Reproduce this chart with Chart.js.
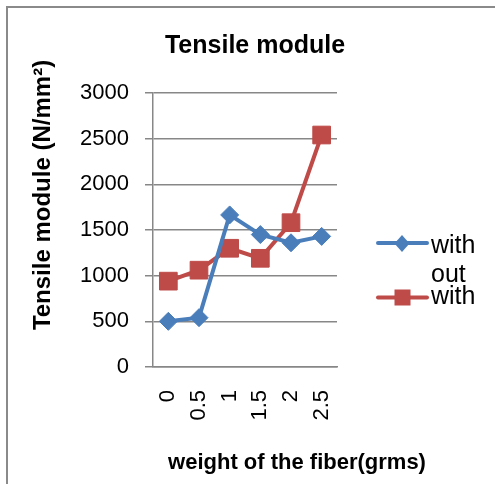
<!DOCTYPE html>
<html>
<head>
<meta charset="utf-8">
<script src="https://cdn.jsdelivr.net/npm/chart.js@4.4.1/dist/chart.umd.min.js"></script>
<style>
html,body{margin:0;padding:0;background:#fff;}
#wrap{width:495px;height:484px;position:relative;}
</style>
</head>
<body>
<div id="wrap"><canvas id="c" width="495" height="484"></canvas></div>
<script>
const categories = ["0", "0.5", "1", "1.5", "2", "2.5"];
const withoutValues = [500, 540, 1665, 1450, 1360, 1430];
const withValues = [940, 1060, 1300, 1190, 1580, 2540];
const seriesNames = ["with out", "with"];
const chartTitle = "Tensile module";
const yTitle = "Tensile module (N/mm²)";
const xTitle = "weight of the fiber(grms)";
const yMin = 0, yMax = 3000, yStep = 500;

const BLUE = "#4A7EBB";
const RED = "#BE4B48";
const GRID = "#878787";
const FONT = "'Liberation Sans', Arial, sans-serif";

const decor = {
  id: 'decor',
  afterDraw(chart) {
    const ctx = chart.ctx;
    ctx.save();
    // outer border
    ctx.strokeStyle = "#8a8a8a";
    ctx.lineWidth = 2;
    ctx.beginPath();
    ctx.moveTo(7, 484);
    ctx.lineTo(7, 7);
    ctx.lineTo(495, 7);
    ctx.stroke();
    ctx.fillStyle = "#000";
    // title
    ctx.font = "bold 25px " + FONT;
    ctx.textAlign = "center";
    ctx.textBaseline = "alphabetic";
    ctx.fillText(chartTitle, 255, 53);
    // x title
    ctx.font = "bold 22px " + FONT;
    ctx.fillText(xTitle, 297, 469);
    // y title
    ctx.save();
    ctx.translate(50, 195);
    ctx.rotate(-Math.PI / 2);
    ctx.font = "bold 24px " + FONT;
    ctx.fillText(yTitle, 0, 0);
    ctx.restore();
    // legend
    ctx.lineWidth = 4;
    ctx.lineCap = "round";
    ctx.strokeStyle = BLUE;
    ctx.beginPath(); ctx.moveTo(378, 243); ctx.lineTo(427, 243); ctx.stroke();
    ctx.fillStyle = BLUE;
    ctx.beginPath();
    ctx.moveTo(402, 235); ctx.lineTo(409.5, 243.5); ctx.lineTo(402, 252); ctx.lineTo(394.5, 243.5); ctx.closePath();
    ctx.fill();
    ctx.strokeStyle = RED;
    ctx.beginPath(); ctx.moveTo(378, 297.5); ctx.lineTo(427, 297.5); ctx.stroke();
    ctx.fillStyle = RED;
    ctx.fillRect(394.5, 289.5, 16, 16);
    ctx.fillStyle = "#000";
    ctx.font = "25px " + FONT;
    ctx.textAlign = "left";
    ctx.fillText("with", 431, 253);
    ctx.fillText("out", 431, 281.5);
    ctx.fillText("with", 431, 303.5);
    ctx.restore();
  }
};

new Chart(document.getElementById('c'), {
  type: 'line',
  data: {
    labels: categories,
    datasets: [
      {
        label: seriesNames[0],
        data: withoutValues,
        borderColor: BLUE,
        backgroundColor: BLUE,
        borderWidth: 4,
        pointStyle: 'rectRot',
        pointRadius: 9,
        pointBorderWidth: 1,
        pointBackgroundColor: BLUE,
        pointBorderColor: BLUE,
        tension: 0,
        clip: false
      },
      {
        label: seriesNames[1],
        data: withValues,
        borderColor: RED,
        backgroundColor: RED,
        borderWidth: 4,
        pointStyle: 'rect',
        pointRadius: 12.5,
        pointBorderWidth: 1,
        pointBackgroundColor: RED,
        pointBorderColor: RED,
        tension: 0,
        clip: false
      }
    ]
  },
  options: {
    responsive: false,
    animation: false,
    devicePixelRatio: 1,
    layout: { padding: { left: 10, top: 93, right: 158, bottom: 0 } },
    plugins: {
      legend: { display: false },
      title: { display: false },
      tooltip: { enabled: false }
    },
    scales: {
      x: {
        type: 'category',
        offset: true,
        grid: { display: false, drawTicks: false },
        border: { display: true, color: GRID, width: 1.5 },
        ticks: {
          color: "#000",
          font: { family: FONT, size: 22 },
          minRotation: 90,
          maxRotation: 90,
          padding: 23,
          autoSkip: false
        },
        afterFit(s) { s.height = 117; }
      },
      y: {
        min: yMin,
        max: yMax,
        grid: { color: GRID, lineWidth: 1.5, tickLength: 8, drawTicks: true },
        border: { display: true, color: GRID, width: 1.5 },
        ticks: {
          stepSize: yStep,
          color: "#000",
          font: { family: FONT, size: 22 },
          padding: 16,
          callback: (v) => String(v)
        },
        afterFit(s) { s.width = 143; }
      }
    }
  },
  plugins: [decor]
});
</script>
</body>
</html>
